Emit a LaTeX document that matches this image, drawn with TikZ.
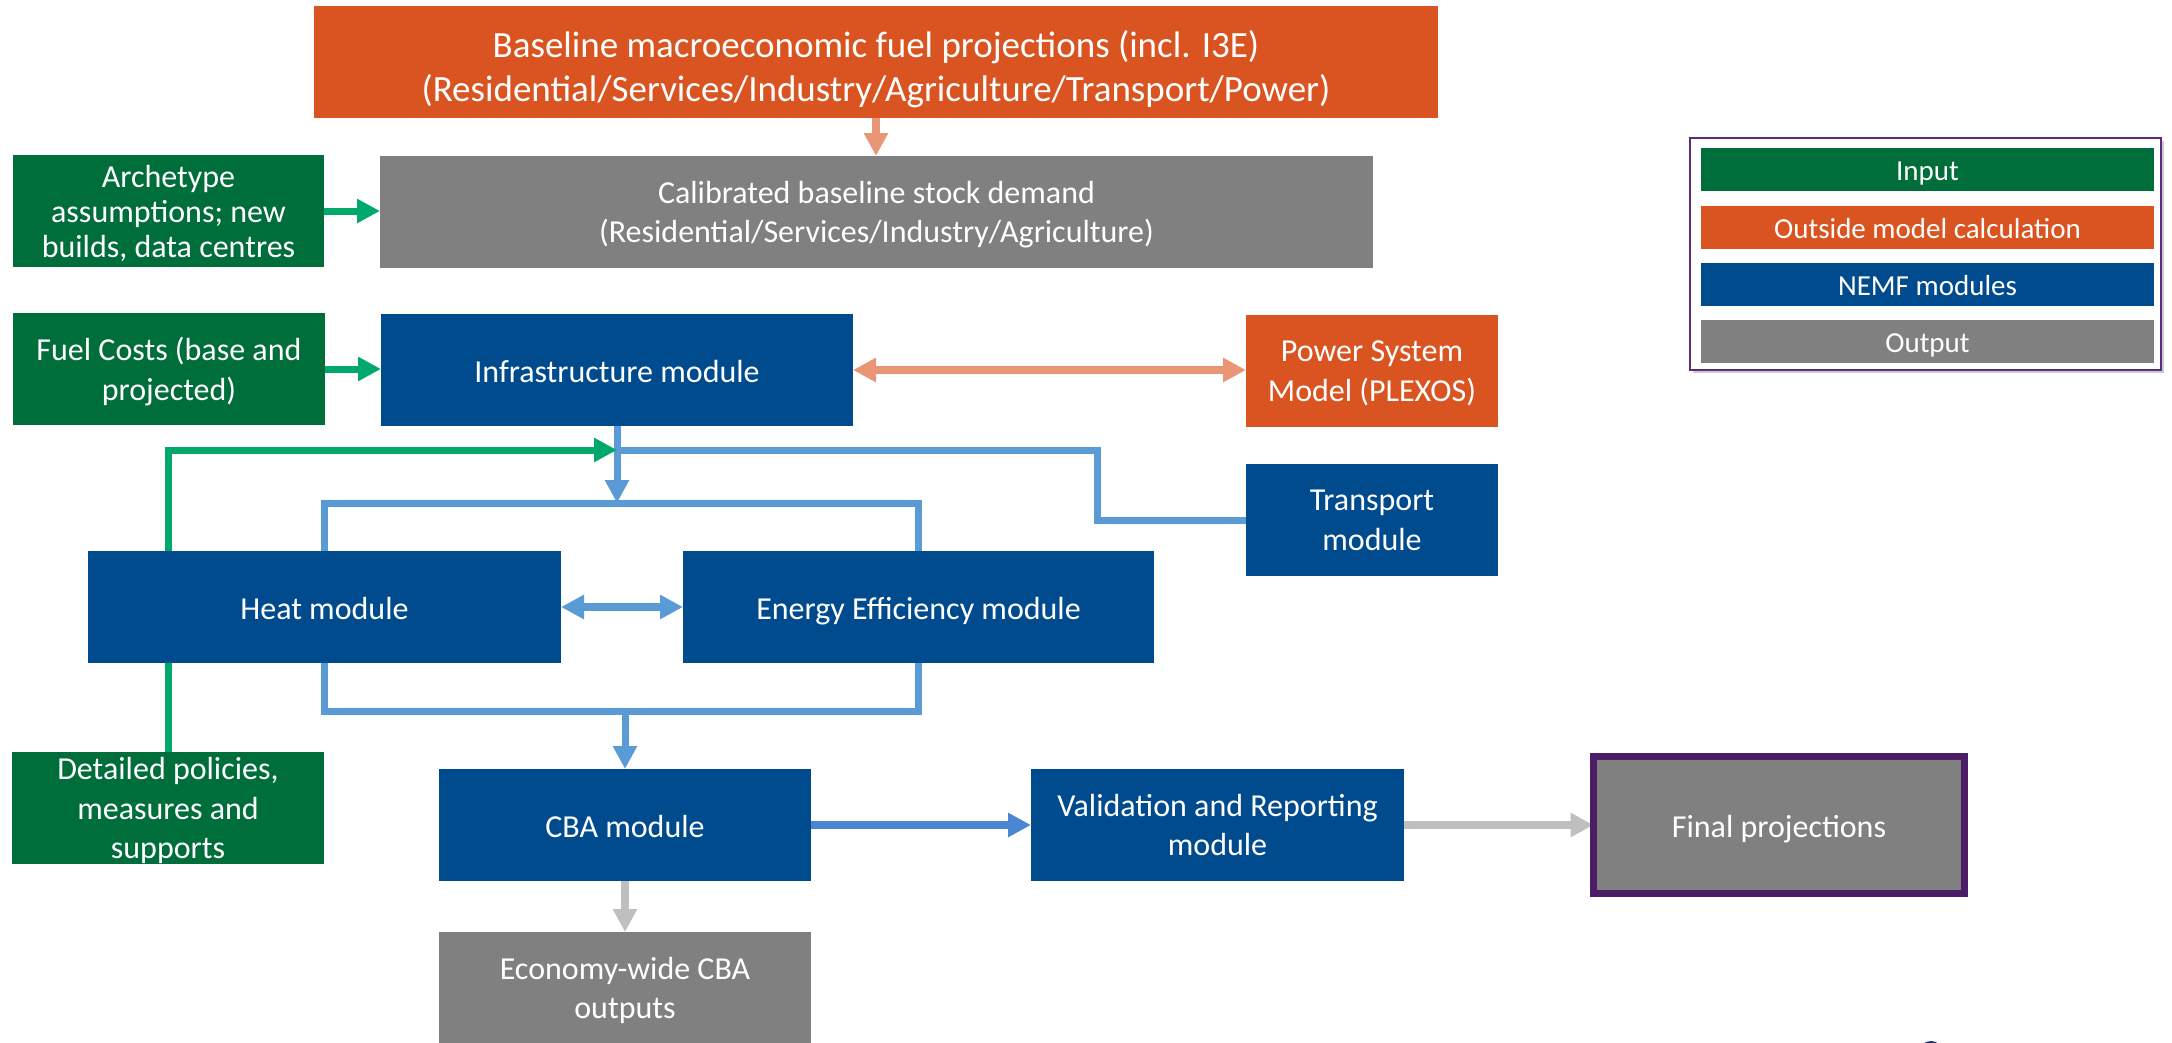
\documentclass[tikz,border=0pt]{standalone}
\usepackage{fontspec}
\setmainfont{Carlito}
\usetikzlibrary{arrows.meta,shadows}

\definecolor{inputgreen}{HTML}{006E3B}
\definecolor{outsideorange}{HTML}{D95420}
\definecolor{nemfblue}{HTML}{004B8D}
\definecolor{outputgray}{HTML}{808080}
\definecolor{linkblue}{HTML}{5B9BD5}
\definecolor{cbablue}{HTML}{4A86D2}
\definecolor{linksalmon}{HTML}{E99676}
\definecolor{linkgreen}{HTML}{00A86B}
\definecolor{linkgray}{HTML}{BFBFBF}
\definecolor{finalpurple}{HTML}{4B1D66}
\definecolor{legendpurple}{HTML}{5A2D82}
\definecolor{logonavy}{HTML}{1F2A6B}

\pgfdeclarelayer{links}
\pgfsetlayers{links,main}

\tikzset{
  % fixed line height and depth keep one-line text centred like a slide text box
  struts/.style 2 args={execute at begin node={\rule{0pt}{#1}},
    execute at end node={\rule[-#2]{0pt}{#2}}},
  box/.style={rectangle, inner sep=0pt, outer sep=0pt, anchor=north west,
    text=white, align=center},
  one/.style={font=\fontsize{32}{38}\selectfont, struts={31pt}{7pt}},
  multi/.style={font=\fontsize{32}{39.5}\selectfont, text depth=0pt},
  sz/.style 2 args={minimum width=#1, minimum height=#2},
  keytext/.style={font=\fontsize{29}{35}\selectfont, struts={28pt}{6pt}},
  titletext/.style={font=\fontsize{37}{44}\selectfont, text depth=0pt},
  >={Triangle[length=23pt,width=23pt]},
  link/.style={line width=7pt},
  bluelink/.style={link, draw=linkblue},
  greenlink/.style={link, draw=linkgreen},
  salmonlink/.style={line width=8pt, draw=linksalmon},
  cbalink/.style={line width=8pt, draw=cbablue},
  graylink/.style={line width=8pt, draw=linkgray},
}

\begin{document}
\begin{tikzpicture}[x=1pt,y=-1pt]
\useasboundingbox (0,0) rectangle (2172,1042);
\clip (0,0) rectangle (2172,1042);

% ---- blocks ----
\node[box, titletext, fill=outsideorange, sz={1124pt}{112pt}] (macro) at (314,6)
  {\rule{0pt}{34pt}Baseline macroeconomic fuel projections (incl. I3E)\\(Residential/Services/Industry/Agriculture/Transport/Power)};
\node[box, multi, font=\fontsize{32}{35}\selectfont, fill=inputgreen, sz={311pt}{112pt}] (arch) at (13,155)
  {Archetype\\assumptions; new\\builds, data centres};
\node[box, multi, fill=outputgray, sz={993pt}{112pt}] (calib) at (380,156)
  {Calibrated baseline stock demand\\(Residential/Services/Industry/Agriculture)};
\node[box, multi, fill=inputgreen, sz={312pt}{112pt}] (fuel) at (13,313)
  {Fuel Costs (base and\\projected)};
\node[box, one, fill=nemfblue, sz={472pt}{112pt}] (infra) at (381,314)
  {Infrastructure module};
\node[box, multi, fill=outsideorange, sz={252pt}{112pt}] (power) at (1246,315)
  {Power System\\Model (PLEXOS)};
\node[box, multi, fill=nemfblue, sz={252pt}{112pt}] (trans) at (1246,464)
  {Transport\\module};
\node[box, one, fill=nemfblue, sz={473pt}{112pt}] (heat) at (88,551)
  {Heat module};
\node[box, one, fill=nemfblue, sz={471pt}{112pt}] (ee) at (683,551)
  {Energy Efficiency module};
\node[box, multi, fill=inputgreen, sz={312pt}{112pt}] (pol) at (12,752)
  {Detailed policies,\\measures and\\supports};
\node[box, one, fill=nemfblue, sz={372pt}{112pt}] (cba) at (439,769)
  {CBA module};
\node[box, multi, fill=nemfblue, sz={373pt}{112pt}] (valid) at (1031,769)
  {Validation and Reporting\\module};
\node[box, one, fill=outputgray, draw=finalpurple, line width=7pt, sz={371pt}{137pt}] (final) at (1593.5,756.5)
  {Final projections};
\node[box, multi, fill=outputgray, sz={372pt}{112pt}] (econ) at (439,932)
  {Economy-wide CBA\\outputs};

% ---- key ----
\node[box, fill=white, draw=legendpurple, line width=2pt, sz={471pt}{232pt},
  drop shadow={shadow xshift=3pt, shadow yshift=-3pt, opacity=0.2, fill=black}] (key) at (1690,138) {};
\node[box, keytext, fill=inputgreen, sz={453pt}{43pt}] (kin) at (1701,148) {Input};
\node[box, keytext, fill=outsideorange, sz={453pt}{43pt}] (kout) at (1701,206) {Outside model calculation};
\node[box, keytext, fill=nemfblue, sz={453pt}{43pt}] (knemf) at (1701,263) {NEMF modules};
\node[box, keytext, fill=outputgray, sz={453pt}{43pt}] (koutp) at (1701,320) {Output};

% partial mark at the lower edge
\fill[logonavy] (1931,1053) circle (12);

% ---- connectors ----
\coordinate (split) at (617,450);
\coordinate (bend) at (1097,450);
\coordinate (topbar) at (0,503);
\coordinate (lowbar) at (0,711);

\begin{pgfonlayer}{links}
\draw[salmonlink,->] (macro.south) -- (macro.south |- calib.north);
\draw[greenlink,->] (arch.east) -- (arch.east -| calib.west);
\draw[greenlink,->] (fuel.east) -- (fuel.east -| infra.west);
\draw[salmonlink,<->] (infra.east) -- (infra.east -| power.west);
\draw[bluelink,->] (infra.south) -- (infra.south |- topbar);
\draw[bluelink] (split) -- (bend) |- (trans.west);
\draw[greenlink,->] (pol.north) |- (split);
\draw[bluelink] (heat.north) -- (heat.north |- topbar) -- (ee.north |- topbar) -- (ee.north);
\draw[bluelink] (heat.south) -- (heat.south |- lowbar) -- (ee.south |- lowbar) -- (ee.south);
\draw[bluelink,->] (cba.north |- lowbar) -- (cba.north);
\draw[bluelink,line width=8pt,<->] (heat.east) -- (ee.west);
\draw[cbalink,->] (cba.east) -- (valid.west);
\draw[graylink,->] (cba.south) -- (econ.north);
\draw[graylink,->] (valid.east) -- (final.west);
\end{pgfonlayer}
\end{tikzpicture}
\end{document}
